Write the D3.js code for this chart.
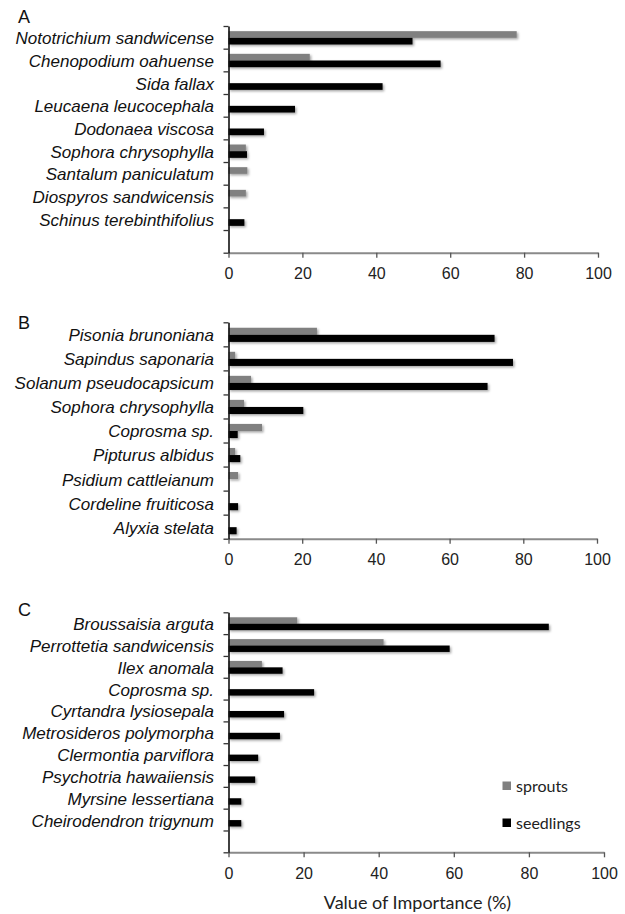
<!DOCTYPE html>
<html>
<head>
<meta charset="utf-8">
<script src="https://cdn.jsdelivr.net/npm/d3@7/dist/d3.min.js"></script>
<style>
  html, body { margin: 0; padding: 0; background: #fff; }
  svg { display: block; }
  .species { font-family: "Liberation Sans", Arial, sans-serif; font-style: italic; font-size: 17px; fill: #111; }
  .panel-letter { font-family: "Liberation Sans", Arial, sans-serif; font-size: 18px; fill: #111; }
  .x-axis text { font-family: "Liberation Sans", Arial, sans-serif; font-size: 16px; fill: #222; }
  .legend text, .axis-title { font-family: Lato, "Open Sans", sans-serif; fill: #222; }
</style>
</head>
<body>
<div id="chart"></div>
<script>
// Importance values (%) of sprouts and seedlings by species, three sites.
const seriesNames = ["sprouts", "seedlings"];
const seriesColors = ["#808080", "#000000"];
const xTicks = [0, 20, 40, 60, 80, 100];

const speciesA = ["Nototrichium sandwicense", "Chenopodium oahuense", "Sida fallax",
  "Leucaena leucocephala", "Dodonaea viscosa", "Sophora chrysophylla",
  "Santalum paniculatum", "Diospyros sandwicensis", "Schinus terebinthifolius"];
const sproutsA   = [78, 22, 0, 0, 0, 4.7, 5.1, 4.7, 0];
const seedlingsA = [49.8, 57.4, 41.7, 18, 9.6, 5, 0, 0, 4.3];

const speciesB = ["Pisonia brunoniana", "Sapindus saponaria", "Solanum pseudocapsicum",
  "Sophora chrysophylla", "Coprosma sp.", "Pipturus albidus",
  "Psidium cattleianum", "Cordeline fruiticosa", "Alyxia stelata"];
const sproutsB   = [24, 1.8, 6.1, 4.2, 9.1, 1.8, 2.6, 0, 0];
const seedlingsB = [72.2, 77.2, 70.3, 20.3, 2.5, 3.2, 0, 2.6, 2.2];

const speciesC = ["Broussaisia arguta", "Perrottetia sandwicensis", "Ilex anomala",
  "Coprosma sp.", "Cyrtandra lysiosepala", "Metrosideros polymorpha",
  "Clermontia parviflora", "Psychotria hawaiiensis", "Myrsine lessertiana",
  "Cheirodendron trigynum"];
const sproutsC   = [18.3, 41.3, 8.9, 0, 0, 0, 0, 0, 0, 0];
const seedlingsC = [85.3, 58.9, 14.4, 22.8, 14.8, 13.7, 7.9, 7.1, 3.4, 3.4];

const width = 625, height = 914;

const svg = d3.select("#chart").append("svg")
  .attr("width", width).attr("height", height);

// soft drop shadow under the bars
const defs = svg.append("defs");
const shadow = defs.append("filter").attr("id", "barShadow")
  .attr("x", "-10%").attr("y", "-40%").attr("width", "130%").attr("height", "200%");
shadow.append("feDropShadow")
  .attr("dx", 1.5).attr("dy", 1.5).attr("stdDeviation", 1)
  .attr("flood-color", "#000").attr("flood-opacity", 0.35);

const panels = [
  { letter: "A", species: speciesA, values: [sproutsA, seedlingsA],
    top: 26, bottom: 252.7, left: 228.5, right: 598, spare: 1, letterY: 22.7 },
  { letter: "B", species: speciesB, values: [sproutsB, seedlingsB],
    top: 322.3, bottom: 538.7, left: 228.5, right: 597, spare: 0, letterY: 329.3 },
  { letter: "C", species: speciesC, values: [sproutsC, seedlingsC],
    top: 612.3, bottom: 852.3, left: 228.5, right: 604, spare: 1, letterY: 616 }
];

panels.forEach(p => {
  const g = svg.append("g");
  const nSlots = p.species.length + p.spare;

  const x = d3.scaleLinear().domain([0, 100]).range([p.left, p.right]);
  const y = d3.scaleBand().domain(d3.range(nSlots)).range([p.top, p.bottom]);
  const yEdge = d3.scaleLinear().domain([0, nSlots]).range([p.top, p.bottom]);
  const sub = d3.scaleBand().domain(seriesNames).range([0, y.bandwidth()])
    .paddingInner(0).paddingOuter(0.7);

  g.append("text").attr("class", "panel-letter")
    .attr("x", 18).attr("y", p.letterY).text(p.letter);

  // bars
  seriesNames.forEach((s, si) => {
    const rows = p.species.map((name, i) => ({ i, v: p.values[si][i] }))
      .filter(d => d.v > 0);
    g.append("g").attr("filter", "url(#barShadow)")
      .selectAll("rect").data(rows).join("rect")
      .attr("x", x(0))
      .attr("y", d => y(d.i) + sub(s) + 0.5)
      .attr("width", d => x(d.v) - x(0))
      .attr("height", sub.bandwidth())
      .attr("fill", seriesColors[si]);
  });

  // x axis
  const xAxis = g.append("g").attr("class", "x-axis")
    .attr("transform", `translate(0,${p.bottom})`)
    .call(d3.axisBottom(x).tickValues(xTicks).tickSize(5).tickSizeOuter(0).tickPadding(10));
  xAxis.select(".domain").attr("stroke", "#8a8a8a").attr("stroke-width", 2);
  xAxis.selectAll(".tick line").attr("stroke", "#555").attr("stroke-width", 1.3);

  // y axis: ticks on category boundaries
  const yAxis = g.append("g")
    .attr("transform", `translate(${p.left},0)`)
    .call(d3.axisLeft(yEdge).tickValues(d3.range(nSlots + 1)).tickSize(5)
      .tickSizeOuter(0).tickFormat(""));
  yAxis.select(".domain").attr("stroke", "#111").attr("stroke-width", 1.6);
  yAxis.selectAll(".tick line").attr("stroke", "#333").attr("stroke-width", 1.3);

  // species labels
  g.selectAll("text.species").data(p.species).join("text")
    .attr("class", "species")
    .attr("x", 214)
    .attr("y", (d, i) => y(i) + y.bandwidth() / 2 + 1)
    .attr("dy", "0.35em")
    .attr("text-anchor", "end")
    .text(d => d);
});

// axis title
svg.append("text").attr("class", "axis-title")
  .attr("x", 417.5).attr("y", 909)
  .attr("text-anchor", "middle").attr("font-size", 18)
  .text("Value of Importance (%)");

// legend
const legend = svg.append("g").attr("class", "legend");
const legendY = [786, 823];
seriesNames.forEach((s, i) => {
  legend.append("rect")
    .attr("x", 502.5).attr("y", legendY[i] - 4.5)
    .attr("width", 8.5).attr("height", 8.5)
    .attr("fill", seriesColors[i]);
  legend.append("text")
    .attr("x", 516).attr("y", legendY[i] + 6)
    .attr("font-size", 16)
    .text(s);
});
</script>
</body>
</html>
